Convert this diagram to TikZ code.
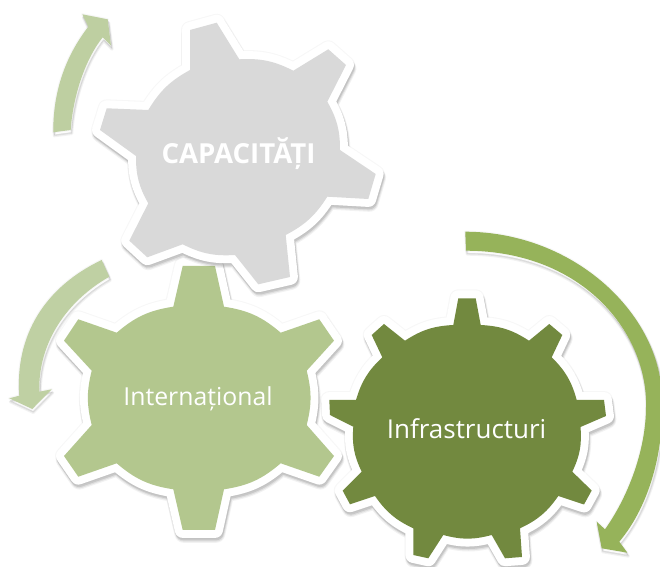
\documentclass[tikz,border=0pt]{standalone}
\usepackage{fontspec}
\setmainfont{Open Sans}
\definecolor{greygear}{HTML}{D9D9D9}
\definecolor{lightgear}{HTML}{B3C78E}
\definecolor{darkgear}{HTML}{72893F}
\definecolor{arrowpale}{HTML}{BFD0A3}
\definecolor{arrowmid}{HTML}{96B35A}
\begin{document}
\begin{tikzpicture}[
    x=0.02cm, y=-0.02cm,
    softshadow/.style={
      preaction={draw=black, opacity=0.03, line width=#1+1.2pt, line join=round},
      preaction={draw=black, opacity=0.05, line width=#1+1.6pt, line join=round, transform canvas={xshift=0.6pt, yshift=-2pt}},
      preaction={draw=black, opacity=0.08, line width=#1+0.6pt, line join=round, transform canvas={xshift=0.6pt, yshift=-1.8pt}},
      preaction={draw=black, opacity=0.1, line width=#1, line join=round, transform canvas={xshift=0.5pt, yshift=-1.4pt}}},
    gearshape/.style={fill=#1, softshadow=9pt,
      preaction={draw=white, line width=9pt, line join=round}},
    turnarrow/.style={fill=#1, softshadow=0.1pt},
    gearlabel/.style={text=white, inner sep=0pt},
  ]
  \useasboundingbox (0,0) rectangle (660,567);

  % Turning arrows
  \path[turnarrow=arrowpale!90!lightgear]
    (53.3,132.3) .. controls (53,92) and (65,57) .. (88.3,26.7)
    -- (82.3,14.3) -- (107.7,19.3) -- (111,45.7) -- (102.7,37.3)
    .. controls (86,58) and (73,95) .. (70.7,130) -- cycle;
  \path[turnarrow=arrowpale]
    (101.7,260) .. controls (45,287) and (15,335) .. (19.3,395.7)
    -- (9.3,398.3) -- (32.3,409) -- (51.7,389.3) -- (39.3,391.7)
    .. controls (38,350) and (60,305) .. (109.3,276.7) -- cycle;
  \path[turnarrow=arrowmid]
    (465.3,231.7) .. controls (575,232) and (662,315) .. (662,400)
    .. controls (664,450) and (650,505) .. (619.3,541.7)
    -- (627.3,552.7) -- (601.7,548.3) -- (596.7,521.7) -- (605,529.3)
    .. controls (628,497) and (646,450) .. (646,407)
    .. controls (648,335) and (585,251) .. (466,250.7) -- cycle;

  % Gears
  \path[gearshape=darkgear]
    (458.3,298.3) -- (475.7,298.3) -- (480.7,325)
    to[bend left=15] (529,340.7) -- (549.3,324) -- (562.3,335) -- (551.7,357.3)
    to[bend left=15] (576.7,400) -- (604,400) -- (606,416) -- (580.5,427)
    to[bend left=15] (572.3,471.7) -- (591.7,490.5) -- (584,504.5) -- (558.3,496)
    to[bend left=15] (520,528.3) -- (522,557) -- (505,558.3) -- (491.7,535)
    to[bend left=15] (443.3,535) -- (428.3,558.3) -- (413.3,555) -- (413.3,528.3)
    to[bend left=15] (375,496) -- (350,504.3) -- (342.7,490.7) -- (361.7,471.7)
    to[bend left=15] (353.3,426.7) -- (330,415) -- (329.3,400) -- (356,400)
    to[bend left=15] (382.3,357.3) -- (371.7,335) -- (384,324) -- (405,340.7)
    to[bend left=15] (453.3,325) -- cycle;
  \path[gearshape=lightgear]
    (182.7,266) -- (215,266) -- (224,306.7)
    to[bend left=16] (280.7,332.7) -- (319.3,319.3) -- (334,340.7) -- (306.7,370.7)
    to[bend left=14] (306.7,425) -- (334,456) -- (319.3,476.7) -- (280.7,463.3)
    to[bend left=16] (224,489.3) -- (215,530) -- (182.7,530) -- (173.3,489.3)
    to[bend left=16] (116.7,463.3) -- (78.3,476.7) -- (64,456) -- (91.7,425)
    to[bend left=14] (91.7,370.7) -- (64,340.7) -- (78.3,319.3) -- (116.7,332.7)
    to[bend left=16] (173.3,306.7) -- cycle;
  \path[gearshape=greygear]
    (190,30) -- (216.7,22.7) -- (239.3,59.3)
    to[bend left=15] (293.3,70.7) -- (328.3,49.3) -- (346,65) -- (327.3,101.7)
    to[bend left=15] (340,150) -- (375.7,174) -- (368.3,199) -- (327.3,196.7)
    to[bend left=15] (285.7,235) -- (290,277) -- (258.3,284.3) -- (235,255)
    to[bend left=15] (182.7,244.3) -- (147.3,257.3) -- (129.3,240.7) -- (148.3,203.3)
    to[bend left=15] (136,156) -- (100,130) -- (106.7,108.3) -- (148.3,110)
    to[bend left=15] (190,70) -- cycle;

  % Labels
  \node[gearlabel, font=\fontsize{15.7}{18}\selectfont\bfseries] (capacitati) at (238.5,153.5) {CAPACITĂȚI};
  \node[gearlabel, font=\fontsize{14.1}{18}\selectfont] (international) at (198,399) {Internațional};
  \node[gearlabel, font=\fontsize{14.8}{18}\selectfont] (infrastructuri) at (466.5,429) {Infrastructuri};

\end{tikzpicture}
\end{document}
